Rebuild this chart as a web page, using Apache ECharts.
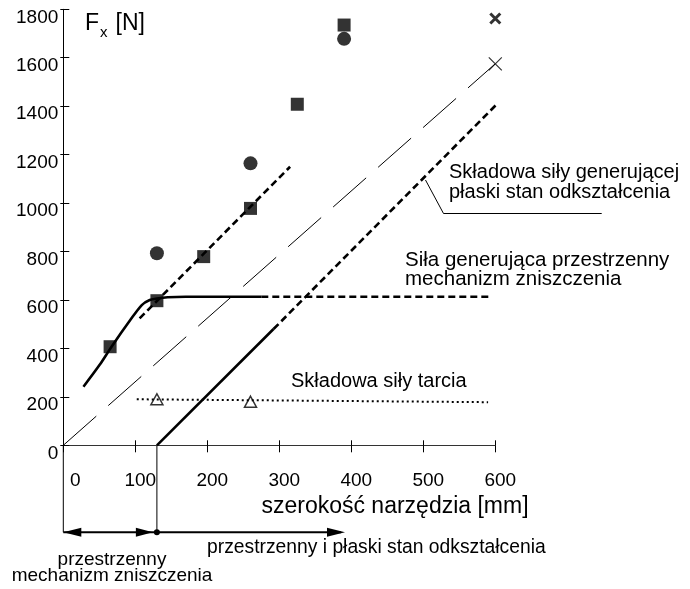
<!DOCTYPE html>
<html>
<head>
<meta charset="utf-8">
<script src="https://cdn.jsdelivr.net/npm/echarts@6/dist/echarts.min.js"></script>
<style>
html,body{margin:0;padding:0;background:#fff;}
#c{width:690px;height:589px;}
</style>
</head>
<body>
<div id="c"></div>
<script>
// ---- data ----
const xTicks = [0, 100, 200, 300, 400, 500, 600];
const yTicks = [0, 200, 400, 600, 800, 1000, 1200, 1400, 1600, 1800];

const squareX = [65, 130, 195, 260, 325, 390];
const squareY = [407, 597, 779, 978, 1408, 1735];

const circleX = [130, 260, 390];
const circleY = [793, 1164, 1678];

const triangleX = [130, 260];
const triangleY = [190, 180];

const boldCrossX = [600];
const boldCrossY = [1762];

const thinCrossX = [600];
const thinCrossY = [1575];

// long-dash thin line (0,0)-(600,1575)
const refLineX = [0, 600];
const refLineY = [0, 1575];

// upper bold dashed line
const upperDashX = [106, 315];
const upperDashY = [524, 1150];

// plane-strain component: solid + dashed continuation
const planeSolidX = [130, 292];
const planeSolidY = [0, 480];
const planeDashX = [292, 602];
const planeDashY = [480, 1408];

// spatial mechanism force curve
const spatialX = [28, 50, 67, 93, 109, 120, 130, 145, 170, 275];
const spatialY = [242, 330, 407, 517, 579, 600, 606, 611, 613, 613];
const spatialDashX = [275, 595];
const spatialDashY = [613, 613];

// friction component (dotted)
const frictionX = [102, 590];
const frictionY = [190, 178];

const zip = (xs, ys) => xs.map((x, i) => [x, ys[i]]);

const FONT = '"Liberation Sans", Arial, sans-serif';
const chart = echarts.init(document.getElementById('c'), null, {renderer: 'canvas'});

const crossPath = 'path://M0,0L10,10M10,0L0,10';

const option = {
  backgroundColor: '#fff',
  animation: false,
  grid: {left: 63.3, right: 194.7, top: 9.3, bottom: 143.7, containLabel: false},
  xAxis: [{
    type: 'value', min: xTicks[0], max: xTicks[xTicks.length - 1], interval: 100,
    axisLine: {show: true, onZero: false, lineStyle: {color: '#333', width: 1}},
    axisTick: {show: true, inside: false, length: 7, lineStyle: {color: '#000', width: 1}},
    splitLine: {show: false},
    axisLabel: {
      margin: 26, fontSize: 19, color: '#000', fontFamily: FONT,
      padding: [0, 0, 0, 10],
      formatter: v => v === 0 ? '{z|0}' : String(v),
      rich: {z: {fontSize: 19, fontFamily: FONT, color: '#000', padding: [0, 0, 0, 14]}}
    }
  }, {
    type: 'value', min: xTicks[0], max: xTicks[xTicks.length - 1], interval: 100, position: 'bottom',
    axisLine: {show: false},
    axisTick: {show: true, inside: true, length: 5, lineStyle: {color: '#000', width: 1}},
    axisLabel: {show: false}, splitLine: {show: false}
  }],
  yAxis: [{
    type: 'value', min: yTicks[0], max: yTicks[yTicks.length - 1], interval: 200,
    axisLine: {show: true, onZero: false, lineStyle: {color: '#000', width: 1}},
    axisTick: {show: true, inside: false, length: 3, lineStyle: {color: '#000', width: 1}},
    splitLine: {show: false},
    axisLabel: {
      margin: 5, fontSize: 19, color: '#000', fontFamily: FONT,
      verticalAlign: 'top', lineHeight: 16,
      formatter: v => String(v)
    }
  }, {
    type: 'value', min: yTicks[0], max: yTicks[yTicks.length - 1], interval: 200, position: 'left',
    axisLine: {show: false},
    axisTick: {show: true, inside: true, length: 6, lineStyle: {color: '#000', width: 1}},
    axisLabel: {show: false}, splitLine: {show: false}
  }],
  series: [
    {type: 'line', data: zip(refLineX, refLineY), symbol: 'none',
     lineStyle: {color: '#000', width: 1, type: [44, 16]}},
    {type: 'line', data: zip(upperDashX, upperDashY), symbol: 'none',
     lineStyle: {color: '#000', width: 2.6, type: [7, 4]}},
    {type: 'line', data: zip(planeSolidX, planeSolidY), symbol: 'none',
     lineStyle: {color: '#000', width: 2.6}},
    {type: 'line', data: zip(planeDashX, planeDashY), symbol: 'none', clip: false,
     lineStyle: {color: '#000', width: 2.6, type: [7, 4]}},
    {type: 'line', data: zip(spatialX, spatialY), symbol: 'none', smooth: 0.3,
     lineStyle: {color: '#000', width: 2.6}},
    {type: 'line', data: zip(spatialDashX, spatialDashY), symbol: 'none',
     lineStyle: {color: '#000', width: 2.6, type: [7, 4]}},
    {type: 'line', data: zip(frictionX, frictionY), symbol: 'none',
     lineStyle: {color: '#000', width: 2, type: [2, 3]}},
    {type: 'scatter', data: zip(squareX, squareY), symbol: 'rect', symbolSize: 13,
     itemStyle: {color: '#000'}},
    {type: 'scatter', data: zip(circleX, circleY), symbol: 'circle', symbolSize: 14,
     itemStyle: {color: '#000'}},
    {type: 'scatter', data: zip(triangleX, triangleY), symbol: 'triangle', symbolSize: [12, 11],
     itemStyle: {color: '#fff', borderColor: '#000', borderWidth: 1.5}},
    {type: 'scatter', data: zip(boldCrossX, boldCrossY), symbol: crossPath, symbolSize: 10,
     itemStyle: {color: 'none', borderColor: '#000', borderWidth: 3}},
    {type: 'scatter', data: zip(thinCrossX, thinCrossY), symbol: crossPath, symbolSize: 13,
     itemStyle: {color: 'none', borderColor: '#000', borderWidth: 1.2}}
  ]
};
chart.setOption(option);

// ---- annotations (positions derived from the axes) ----
const o = chart.convertToPixel({gridIndex: 0}, [0, 0]);
const p130 = chart.convertToPixel({gridIndex: 0}, [130, 0]);
const arrowY = o[1] + 87;
const arrowEnd = 345;
const t = (text, x, y, size, align) => ({
  type: 'text', silent: true,
  style: {text: text, x: x, y: y, font: size + 'px ' + FONT, fill: '#000',
          align: align || 'left', verticalAlign: 'middle'}
});
const graphics = [
  // y-axis extension and separator
  {type: 'line', shape: {x1: o[0], y1: o[1], x2: o[0], y2: arrowY}, style: {stroke: '#000', lineWidth: 1}},
  {type: 'line', shape: {x1: p130[0], y1: p130[1], x2: p130[0], y2: arrowY}, style: {stroke: '#000', lineWidth: 1}},
  {type: 'line', shape: {x1: o[0], y1: arrowY, x2: arrowEnd - 4, y2: arrowY}, style: {stroke: '#000', lineWidth: 2}},
  {type: 'polygon', shape: {points: [[o[0], arrowY], [o[0] + 18, arrowY - 4.5], [o[0] + 18, arrowY + 4.5]]}, style: {fill: '#000'}},
  {type: 'polygon', shape: {points: [[p130[0] - 4, arrowY], [p130[0] - 21, arrowY - 4.5], [p130[0] - 21, arrowY + 4.5]]}, style: {fill: '#000'}},
  {type: 'polygon', shape: {points: [[arrowEnd, arrowY], [arrowEnd - 18, arrowY - 4.5], [arrowEnd - 18, arrowY + 4.5]]}, style: {fill: '#000'}},
  {type: 'circle', shape: {cx: p130[0], cy: arrowY, r: 3}, style: {fill: '#000'}},
  // leader line
  {type: 'polyline', shape: {points: [[425.5, 180], [443.5, 213.5], [601.7, 213.5]]}, style: {stroke: '#000', lineWidth: 1, fill: null}},
  // texts
  {type: 'text', silent: true, style: {text: 'F', x: 85, y: 24, font: '23px ' + FONT, fill: '#000', verticalAlign: 'middle'}},
  {type: 'text', silent: true, style: {text: 'x', x: 100, y: 33, font: '15px ' + FONT, fill: '#000', verticalAlign: 'middle'}},
  {type: 'text', silent: true, style: {text: '[N]', x: 115.5, y: 24, font: '23px ' + FONT, fill: '#000', verticalAlign: 'middle'}},
  {type: 'text', silent: true, style: {text: 'szerokość narzędzia [mm]', x: 395, y: 507, font: '23px ' + FONT, fill: '#000', align: 'center', verticalAlign: 'middle'}},
  t('Składowa siły generującej', 449, 172, 20),
  t('płaski stan odkształcenia', 449, 192.5, 20),
  t('Siła generująca przestrzenny', 405, 260, 20.5),
  t('mechanizm zniszczenia', 405, 279, 20.5),
  t('Składowa siły tarcia', 291, 381, 20),
  t('przestrzenny i płaski stan odkształcenia', 207, 548, 19.3),
  t('przestrzenny', 112, 560, 19, 'center'),
  t('mechanizm zniszczenia', 112, 576, 19, 'center')
];
chart.setOption({graphic: graphics});
</script>
</body>
</html>
